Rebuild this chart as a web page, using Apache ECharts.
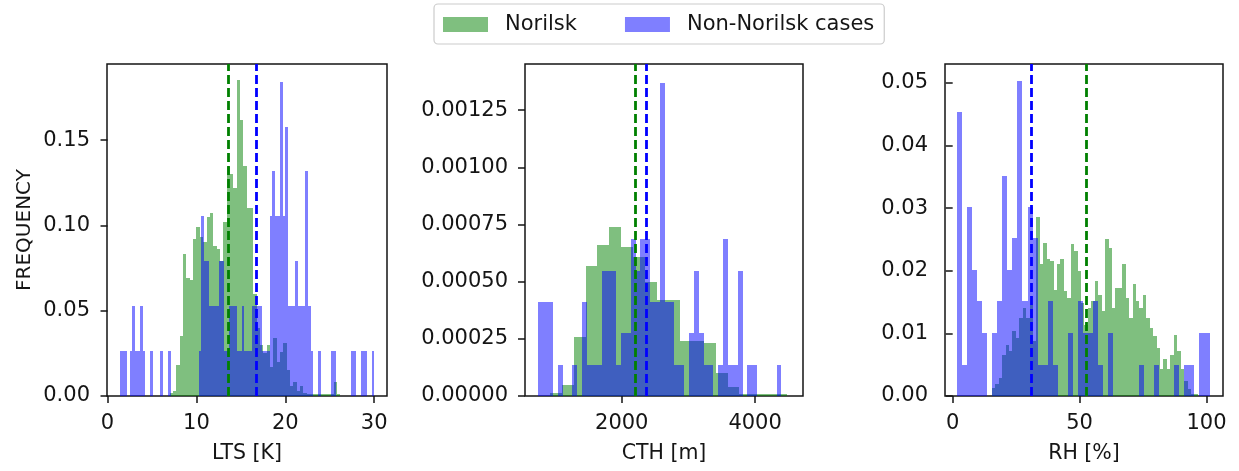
<!DOCTYPE html>
<html>
<head>
<meta charset="utf-8">
<script src="https://cdn.jsdelivr.net/npm/echarts@6/dist/echarts.min.js"></script>
<style>
  html, body { margin: 0; padding: 0; background: #ffffff; }
  #chart { width: 1239px; height: 471px; }
</style>
</head>
<body>
<div id="chart"></div>
<script>
// ---------- LTS [K] ----------
const ltsNorilskStart = 7.0;
const ltsNorilskWidth = 0.376;
const ltsNorilsk = [
  0.002, 0.003, 0.018, 0.035, 0.083, 0.069, 0.068, 0.092, 0.099, 0.093,
  0.090, 0.105, 0.107, 0.088, 0.086, 0.079, 0.102, 0.134, 0.130, 0.122,
  0.185, 0.162, 0.135, 0.110, 0.110, 0.060, 0.040, 0.030, 0.025, 0.030,
  0.017, 0.034, 0.020, 0.026, 0.031, 0.015, 0.006, 0.008, 0.003, 0.006,
  0.002, 0.001, 0.001, 0.001, 0.001, 0.001, 0.001, 0.001, 0.001, 0.008, 0.001
];
const ltsOtherStart = 1.37;
const ltsOtherWidth = 0.2863;
const ltsOther = [
  0.0263, 0.0263, 0.0263, 0, 0.0263, 0.0526, 0.0263, 0.0263, 0.0526, 0.0263,
  0, 0, 0.0263, 0, 0, 0, 0.0263, 0, 0, 0.0263,
  0, 0, 0, 0, 0, 0, 0, 0, 0, 0,
  0, 0.0263, 0.1053, 0.0789, 0.0789, 0.0526, 0.0526, 0.0526, 0.0526, 0.0789,
  0.0789, 0.0263, 0.0263, 0.0526, 0.0526, 0.0526, 0.0263, 0.0263, 0.0526, 0.0263,
  0.0263, 0.0263, 0.0526, 0.0526, 0.0526, 0.0526, 0.0263, 0.0263, 0.0263, 0.1053,
  0.1316, 0.1053, 0.1053, 0.1842, 0.1053, 0.1579, 0.0526, 0.0526, 0.0526, 0.0789,
  0.0526, 0.0526, 0.0526, 0.1316, 0.0526, 0.0263, 0, 0, 0.0263, 0,
  0, 0, 0, 0.0263, 0.0263, 0, 0, 0, 0, 0,
  0, 0.0263, 0.0263, 0, 0, 0.0263, 0.0263, 0, 0, 0.0263
];
const ltsMeans = { norilsk: 13.58, other: 16.71 };
const ltsTicks = [0, 10, 20, 30];
const ltsFreqTicks = [0, 0.05, 0.10, 0.15];

// ---------- CTH [m] ----------
const cthNorilskStart = 924;
const cthNorilskWidth = 177.5;
const cthNorilsk = [
  0.000015, 0.00005, 0.00026, 0.00057, 0.00066, 0.00074, 0.00065, 0.00061, 0.00050, 0.00042,
  0.00042, 0.00024, 0.00024, 0.00023, 0.00010, 0.00004, 0.00001, 0.00001, 0.00001, 0.00001
];
const cthOtherStart = 749;
const cthOtherWidth = 72.9;
const cthOther = [
  0.000411, 0.000411, 0.000411, 0, 0.000137, 0, 0, 0.000137, 0, 0.000411,
  0.000137, 0.000137, 0.000137, 0.000548, 0.000548, 0.000548, 0.000137, 0.000274, 0.000274, 0.000685,
  0.000548, 0.000685, 0.000685, 0.000411, 0.000411, 0.00137, 0.000411, 0.000411, 0.000137, 0.000137,
  0, 0.000274, 0.000548, 0.000274, 0.000137, 0.000137, 0, 0.000137, 0.000685, 0.000137,
  0.000137, 0.000548, 0, 0.000137, 0.000137, 0, 0, 0, 0, 0.000137
];
const cthMeans = { norilsk: 2199, other: 2374 };
const cthTicks = [2000, 4000];
const cthFreqTicks = [0, 0.00025, 0.0005, 0.00075, 0.001, 0.00125];

// ---------- RH [%] ----------
const rhNorilskStart = 15.4;
const rhNorilskWidth = 1.353;
const rhNorilsk = [
  0.0013, 0.0019, 0.0029, 0.0066, 0.0082, 0.0072, 0.0104, 0.0093, 0.0125, 0.0141,
  0.0125, 0.0146, 0.0088, 0.0285, 0.0210, 0.0245, 0.0218, 0.0215, 0.0170, 0.0210,
  0.0218, 0.0168, 0.0157, 0.0242, 0.0231, 0.0200, 0.0149, 0.0114, 0.0141, 0.0152,
  0.0183, 0.0162, 0.0136, 0.0250, 0.0237, 0.0141, 0.0173, 0.0173, 0.0210, 0.0157,
  0.0125, 0.0178, 0.0152, 0.0141, 0.0162, 0.0125, 0.0109, 0.0096, 0.0077, 0.0043,
  0.0059, 0.0043, 0.0066, 0.0098, 0.0072, 0.0043, 0.0024, 0.0011, 0.0003, 0.0003
];
const rhOtherStart = 1.6;
const rhOtherWidth = 1.992;
const rhOther = [
  0.0453, 0.0050, 0.0302, 0.0201, 0.0151, 0.0101, 0, 0.0101, 0.0151, 0.0352,
  0.0201, 0.0252, 0.0503, 0.0151, 0.0302, 0.0252, 0.0050, 0.0050, 0.0151, 0.0050,
  0, 0, 0.0101, 0, 0.0151, 0.0101, 0.0101, 0.0151, 0.0050, 0,
  0.0101, 0, 0, 0, 0, 0, 0.0050, 0, 0, 0.0050,
  0, 0, 0, 0.0050, 0, 0.0050, 0.0050, 0, 0.0101, 0.0101
];
const rhMeans = { norilsk: 52.75, other: 31.1 };
const rhTicks = [0, 50, 100];
const rhFreqTicks = [0, 0.01, 0.02, 0.03, 0.04, 0.05];

// ---------- styling ----------
const FONT = 'DejaVu Sans';
const TEXT = '#151515';
const GREEN_FILL = 'rgba(0,128,0,0.5)';
const BLUE_FILL = 'rgba(0,0,255,0.5)';
const GREEN_LINE = '#008000';
const BLUE_LINE = '#0000ff';
const NAME_N = 'Norilsk';
const NAME_O = 'Non-Norilsk cases';

// turn a list of heights into [left edge, right edge, height] rows
function toBins(start, width, heights) {
  return heights.map((h, i) => [start + i * width, start + (i + 1) * width, h]);
}

// one histogram bar per data row, placed through the axis scales
function renderBar(params, api) {
  const h = api.value(2);
  if (!h) return null;
  const top = api.coord([api.value(0), h]);
  const base = api.coord([api.value(1), 0]);
  const x0 = Math.round(top[0]);
  const x1 = Math.round(base[0]);
  const y0 = Math.round(top[1]);
  const y1 = Math.round(base[1]);
  return {
    type: 'rect',
    shape: { x: x0, y: y0, width: x1 - x0, height: y1 - y0 },
    style: { fill: api.visual('color') }
  };
}

function meanLine(value, color) {
  return {
    silent: true,
    symbol: ['none', 'none'],
    label: { show: false },
    animation: false,
    lineStyle: { color: color, type: [9, 4], width: 2.8 },
    data: [{ xAxis: value }]
  };
}

function histSeries(idx, name, start, width, heights, fill, mean, lineColor) {
  return {
    type: 'custom',
    name: name,
    xAxisIndex: idx,
    yAxisIndex: idx,
    renderItem: renderBar,
    encode: { x: [0, 1], y: 2 },
    data: toBins(start, width, heights),
    itemStyle: { color: fill },
    silent: true,
    clip: true,
    markLine: meanLine(mean, lineColor)
  };
}

const labelFont = { fontFamily: FONT, fontSize: 21, color: TEXT };

function xAxis(idx, min, max, ticks, name) {
  return {
    type: 'value', gridIndex: idx, min: min, max: max,
    name: name, nameLocation: 'middle', nameGap: 47,
    nameTextStyle: { fontFamily: FONT, fontSize: 20.5, color: TEXT },
    axisLine: { show: false },
    axisTick: { show: true, customValues: ticks, length: 7, lineStyle: { color: TEXT, width: 1.5 } },
    axisLabel: Object.assign({ customValues: ticks, margin: 17, formatter: v => String(v) }, labelFont),
    splitLine: { show: false }
  };
}

function yAxis(idx, max, ticks, digits, name) {
  const cfg = {
    type: 'value', gridIndex: idx, min: 0, max: max,
    axisLine: { show: false },
    axisTick: { show: true, customValues: ticks, length: 7, lineStyle: { color: TEXT, width: 1.5 } },
    axisLabel: Object.assign({ customValues: ticks, margin: 17, formatter: v => v.toFixed(digits) }, labelFont),
    splitLine: { show: false }
  };
  if (name) {
    cfg.name = name;
    cfg.nameLocation = 'middle';
    cfg.nameRotate = 90;
    cfg.nameGap = 72;
    cfg.nameTextStyle = { fontFamily: FONT, fontSize: 20, color: TEXT };
  }
  return cfg;
}

const frame = { show: true, borderColor: '#151515', borderWidth: 1.5, backgroundColor: 'transparent' };

const option = {
  animation: false,
  backgroundColor: '#ffffff',
  legend: {
    data: [NAME_N, NAME_O],
    left: 434, top: 4,
    orient: 'horizontal',
    icon: 'rect',
    itemWidth: 45, itemHeight: 15,
    itemGap: 48,
    padding: [10, 10, 9, 9],
    borderColor: '#cccccc', borderWidth: 1.2, borderRadius: 4,
    selectedMode: false,
    textStyle: { fontFamily: FONT, fontSize: 21, color: TEXT, padding: [0, 0, 0, 12] }
  },
  grid: [
    Object.assign({ left: 107, top: 64, width: 280, height: 332 }, frame),
    Object.assign({ left: 525, top: 64, width: 278, height: 332 }, frame),
    Object.assign({ left: 945, top: 64, width: 278, height: 332 }, frame)
  ],
  xAxis: [
    xAxis(0, -0.06, 31.44, ltsTicks, 'LTS [K]'),
    xAxis(1, 549, 4718, cthTicks, 'CTH [m]'),
    xAxis(2, -3.03, 106.5, rhTicks, 'RH [%]')
  ],
  yAxis: [
    yAxis(0, 0.1946, ltsFreqTicks, 2, 'FREQUENCY'),
    yAxis(1, 0.001452, cthFreqTicks, 5),
    yAxis(2, 0.053, rhFreqTicks, 2)
  ],
  series: [
    histSeries(0, NAME_N, ltsNorilskStart, ltsNorilskWidth, ltsNorilsk, GREEN_FILL, ltsMeans.norilsk, GREEN_LINE),
    histSeries(0, NAME_O, ltsOtherStart, ltsOtherWidth, ltsOther, BLUE_FILL, ltsMeans.other, BLUE_LINE),
    histSeries(1, NAME_N, cthNorilskStart, cthNorilskWidth, cthNorilsk, GREEN_FILL, cthMeans.norilsk, GREEN_LINE),
    histSeries(1, NAME_O, cthOtherStart, cthOtherWidth, cthOther, BLUE_FILL, cthMeans.other, BLUE_LINE),
    histSeries(2, NAME_N, rhNorilskStart, rhNorilskWidth, rhNorilsk, GREEN_FILL, rhMeans.norilsk, GREEN_LINE),
    histSeries(2, NAME_O, rhOtherStart, rhOtherWidth, rhOther, BLUE_FILL, rhMeans.other, BLUE_LINE)
  ]
};

const chart = echarts.init(document.getElementById('chart'), null, { renderer: 'canvas' });
chart.setOption(option);
</script>
</body>
</html>
